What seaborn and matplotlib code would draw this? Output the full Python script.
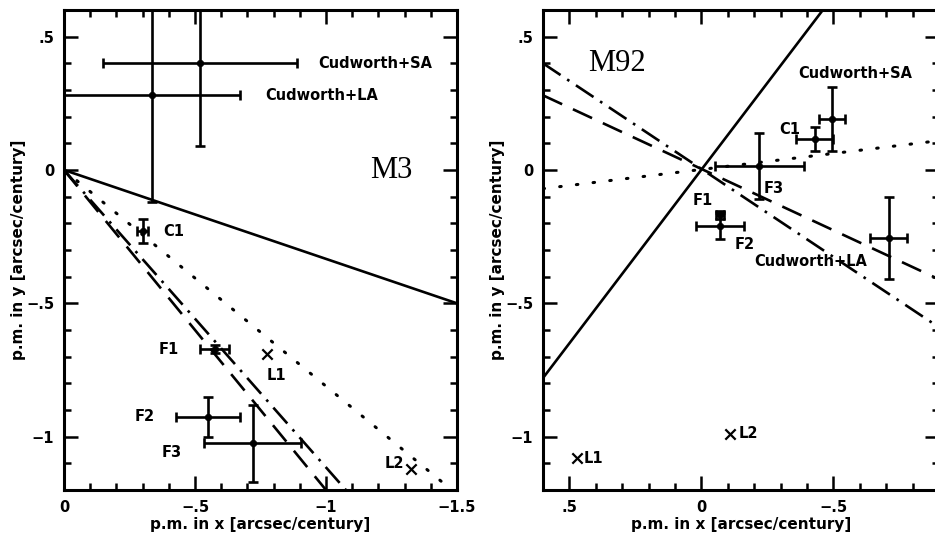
import matplotlib
matplotlib.use("Agg")
import matplotlib.pyplot as plt
from matplotlib.ticker import MultipleLocator, FuncFormatter
import seaborn as sns
import pandas as pd

# --- M3 (linkes paneel) ---
m3_names = ["Cudworth+SA", "Cudworth+LA", "C1", "F1", "F2", "F3"]
m3_x = [-0.52, -0.335, -0.30, -0.575, -0.55, -0.72]
m3_y = [0.40, 0.28, -0.23, -0.67, -0.925, -1.025]
m3_xerr = [0.37, 0.335, 0.02, 0.055, 0.123, 0.185]
m3_yerr = [0.31, 0.40, 0.045, 0.015, 0.075, 0.145]
m3_cross_x = [-0.776, -1.323]
m3_cross_y = [-0.69, -1.12]

m3_solid = ([0, -1.5], [0, -0.5])
m3_dotted = ([0, -1.48], [0, -1.2])
m3_dashed = ([0, -1.0], [0, -1.2])
m3_dashdot = ([0, -1.076], [0, -1.2])

# --- M92 (rechts paneel) ---
m92_names = ["F3", "C1", "Cudworth+SA", "F1", "F2", "Cudworth+LA"]
m92_x = [-0.22, -0.43, -0.495, -0.07, -0.07, -0.71]
m92_y = [0.015, 0.115, 0.19, -0.17, -0.21, -0.255]
m92_xerr = [0.17, 0.07, 0.05, 0.015, 0.09, 0.07]
m92_yerr = [0.125, 0.045, 0.12, 0.015, 0.05, 0.155]
m92_cross_x = [0.47, -0.11]
m92_cross_y = [-1.08, -0.99]

m92_solid = ([0.6, -0.46], [-0.78, 0.6])
m92_dashdot = ([0.6, -0.9], [0.40, -0.59])
m92_dashed = ([0.6, -0.9], [0.28, -0.41])
m92_dotted = ([0.6, -0.9], [-0.07, 0.11])

sns.set_style("ticks")
plt.rcParams['font.family'] = ['DejaVu Sans']
plt.rcParams['font.weight'] = 'bold'
for k in ['text.color', 'axes.edgecolor', 'axes.labelcolor', 'xtick.color', 'ytick.color']:
    plt.rcParams[k] = 'black'

fig = plt.figure(figsize=(9.35, 5.4), dpi=100)
ax1 = fig.add_axes([64 / 935, 50 / 540, 393 / 935, 480 / 540])
ax2 = fig.add_axes([543 / 935, 50 / 540, 396 / 935, 480 / 540])


def fmt(v, _):
    if abs(v) < 1e-9:
        return "0"
    s = f"{abs(v):g}"
    if s.startswith("0."):
        s = s[1:]
    return ("\u2212" if v < 0 else "") + s


def draw_lines(ax, solid, dotted, dashed, dashdot):
    sns.lineplot(x=solid[0], y=solid[1], ax=ax, color="black", lw=1.9, sort=False)
    sns.lineplot(x=dotted[0], y=dotted[1], ax=ax, color="black", lw=2.2, sort=False)
    ax.lines[-1].set_dashes([0.5, 5])
    ax.lines[-1].set_dash_capstyle("round")
    sns.lineplot(x=dashed[0], y=dashed[1], ax=ax, color="black", lw=1.9, sort=False)
    ax.lines[-1].set_dashes([8, 4.5])
    sns.lineplot(x=dashdot[0], y=dashdot[1], ax=ax, color="black", lw=1.9, sort=False)
    ax.lines[-1].set_dashes([8, 3, 1, 3])


def draw_points(ax, x, y, xerr, yerr, cx, cy):
    ax.errorbar(x, y, xerr=xerr, yerr=yerr, fmt="none", ecolor="black",
                elinewidth=1.9, capsize=3.5, capthick=1.9)
    df = pd.DataFrame({"x": x, "y": y})
    sns.scatterplot(data=df, x="x", y="y", ax=ax, color="black", s=22,
                    edgecolor="black", linewidth=0.5, zorder=5)
    dc = pd.DataFrame({"x": cx, "y": cy})
    sns.scatterplot(data=dc, x="x", y="y", ax=ax, marker="x", color="black",
                    s=55, linewidth=1.6, zorder=5)


def style_axes(ax, xlim, xmajor):
    ax.set_xlim(*xlim)
    ax.set_ylim(-1.2, 0.6)
    ax.xaxis.set_major_locator(MultipleLocator(xmajor))
    ax.xaxis.set_minor_locator(MultipleLocator(0.1))
    ax.yaxis.set_major_locator(MultipleLocator(0.5))
    ax.yaxis.set_minor_locator(MultipleLocator(0.1))
    ax.xaxis.set_major_formatter(FuncFormatter(fmt))
    ax.yaxis.set_major_formatter(FuncFormatter(fmt))
    ax.tick_params(which="both", direction="in", top=True, right=True,
                   width=1.8, labelsize=10.5, colors="black")
    ax.tick_params(which="major", length=10, pad=7)
    ax.tick_params(which="minor", length=5)
    for sp in ax.spines.values():
        sp.set_linewidth(2.2)
        sp.set_color("black")
        sp.set_visible(True)
    ax.set_xlabel("p.m. in x [arcsec/century]", fontsize=11, fontweight="bold", labelpad=2)
    ax.set_ylabel("p.m. in y [arcsec/century]", fontsize=11, fontweight="bold", labelpad=0)
    for lab in ax.get_xticklabels() + ax.get_yticklabels():
        lab.set_fontweight("bold")


# linkes paneel
draw_lines(ax1, m3_solid, m3_dotted, m3_dashed, m3_dashdot)
draw_points(ax1, m3_x, m3_y, m3_xerr, m3_yerr, m3_cross_x, m3_cross_y)
style_axes(ax1, (0, -1.5), 0.5)
tk = dict(fontsize=10.5, fontweight="bold", va="center")
ax1.text(-0.97, 0.40, "Cudworth+SA", ha="left", **tk)
ax1.text(-0.77, 0.28, "Cudworth+LA", ha="left", **tk)
ax1.text(-0.38, -0.23, "C1", ha="left", **tk)
ax1.text(-0.44, -0.675, "F1", ha="right", **tk)
ax1.text(-0.775, -0.77, "L1", ha="left", **tk)
ax1.text(-0.345, -0.925, "F2", ha="right", **tk)
ax1.text(-0.45, -1.06, "F3", ha="right", **tk)
ax1.text(-1.30, -1.10, "L2", ha="right", **tk)
ax1.text(-1.25, 0.0, "M3", ha="center", va="center", fontsize=22,
         fontweight="normal", family="Liberation Serif")

# rechts paneel
draw_lines(ax2, m92_solid, m92_dotted, m92_dashed, m92_dashdot)
draw_points(ax2, m92_x, m92_y, m92_xerr, m92_yerr, m92_cross_x, m92_cross_y)
style_axes(ax2, (0.6, -0.9), 0.5)
ax2.text(-0.365, 0.36, "Cudworth+SA", ha="left", **tk)
ax2.text(-0.375, 0.15, "C1", ha="right", **tk)
ax2.text(-0.235, -0.07, "F3", ha="left", **tk)
ax2.text(0.035, -0.115, "F1", ha="left", **tk)
ax2.text(-0.125, -0.28, "F2", ha="left", **tk)
ax2.text(-0.20, -0.345, "Cudworth+LA", ha="left", **tk)
ax2.text(0.445, -1.08, "L1", ha="left", **tk)
ax2.text(-0.14, -0.99, "L2", ha="left", **tk)
ax2.text(0.43, 0.40, "M92", ha="left", va="center", fontsize=22,
         fontweight="normal", family="Liberation Serif")

fig.savefig("out.png", dpi=100)
